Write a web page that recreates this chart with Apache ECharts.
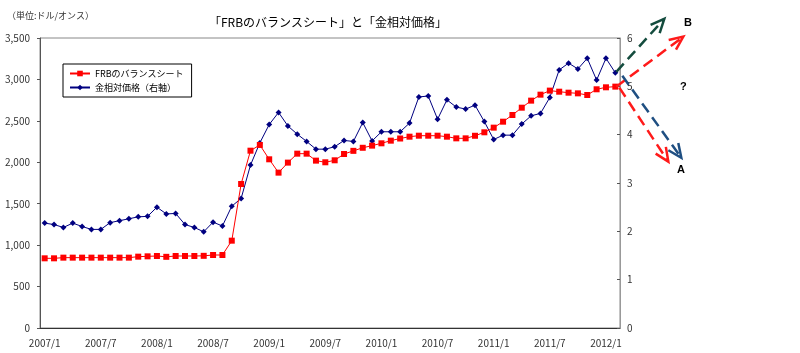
<!DOCTYPE html>
<html>
<head>
<meta charset="utf-8">
<title>FRBのバランスシートと金相対価格</title>
<script src="https://cdn.jsdelivr.net/npm/echarts@6/dist/echarts.min.js"></script>
<style>
  html, body { margin: 0; padding: 0; background: #fff; }
  #chart { width: 800px; height: 353px; }
</style>
</head>
<body>
<div id="chart"></div>
<script>
// 月次カテゴリ 2007/1 〜 2012/2
const months = [
  '2007/1', '2007/2', '2007/3', '2007/4', '2007/5', '2007/6', '2007/7', '2007/8', '2007/9', '2007/10', '2007/11', '2007/12',
  '2008/1', '2008/2', '2008/3', '2008/4', '2008/5', '2008/6', '2008/7', '2008/8', '2008/9', '2008/10', '2008/11', '2008/12',
  '2009/1', '2009/2', '2009/3', '2009/4', '2009/5', '2009/6', '2009/7', '2009/8', '2009/9', '2009/10', '2009/11', '2009/12',
  '2010/1', '2010/2', '2010/3', '2010/4', '2010/5', '2010/6', '2010/7', '2010/8', '2010/9', '2010/10', '2010/11', '2010/12',
  '2011/1', '2011/2', '2011/3', '2011/4', '2011/5', '2011/6', '2011/7', '2011/8', '2011/9', '2011/10', '2011/11', '2011/12',
  '2012/1', '2012/2'
];

// FRBのバランスシート（左軸）
const frbBalance = [
  841, 841, 849, 849, 849, 849, 849, 849, 849, 849, 861, 865,
  869, 859, 869, 869, 869, 871, 881, 881, 1054, 1738, 2140, 2209,
  2036, 1875, 1996, 2104, 2104, 2020, 2000, 2024, 2100, 2138, 2175, 2201,
  2229, 2261, 2287, 2309, 2321, 2321, 2321, 2309, 2289, 2289, 2320, 2362,
  2418, 2490, 2571, 2659, 2744, 2816, 2865, 2852, 2840, 2832, 2812, 2881,
  2905, 2913
];

// 金相対価格（右軸）
const goldRelative = [
  2.17, 2.14, 2.08, 2.17, 2.10, 2.04, 2.04, 2.18, 2.22, 2.26, 2.30, 2.31,
  2.50, 2.36, 2.37, 2.14, 2.08, 1.99, 2.19, 2.11, 2.52, 2.68, 3.37, 3.83,
  4.21, 4.46, 4.18, 4.01, 3.86, 3.70, 3.70, 3.75, 3.88, 3.86, 4.25, 3.87,
  4.06, 4.06, 4.06, 4.24, 4.78, 4.80, 4.32, 4.72, 4.57, 4.53, 4.61, 4.27,
  3.90, 3.99, 3.99, 4.22, 4.39, 4.44, 4.77, 5.34, 5.48, 5.36, 5.58, 5.13,
  5.58, 5.28
];

const jpFont = '"Noto Sans CJK JP", "Noto Sans", sans-serif';

const chart = echarts.init(document.getElementById('chart'));

const option = {
  animation: false,
  backgroundColor: '#fff',
  title: {
    text: '「FRBのバランスシート」と「金相対価格」',
    left: 323,
    top: 11,
    textAlign: 'center',
    textStyle: { fontFamily: jpFont, fontSize: 12, fontWeight: 'normal', color: '#000' }
  },
  legend: {
    orient: 'vertical',
    left: 63,
    top: 64,
    padding: [5, 8, 5, 6],
    itemGap: 5,
    itemWidth: 20,
    itemHeight: 7,
    borderColor: '#000',
    borderWidth: 1,
    textStyle: { fontFamily: jpFont, fontSize: 9, color: '#000' },
    data: ['FRBのバランスシート', '金相対価格（右軸）']
  },
  graphic: [
    {
      type: 'text',
      left: 7,
      top: 11,
      style: { text: '（単位:ドル/オンス）', fontFamily: jpFont, fontSize: 9, fill: '#333' }
    }
  ],
  grid: {
    left: 40,
    right: 180,
    top: 38,
    bottom: 25,
    show: true,
    borderColor: '#888',
    borderWidth: 1
  },
  xAxis: {
    type: 'category',
    data: months,
    boundaryGap: true,
    axisLine: { lineStyle: { color: '#333', width: 1 } },
    axisTick: { interval: 0, inside: true, length: 3, lineStyle: { color: '#333' } },
    axisLabel: {
      interval: 5,
      margin: 10,
      fontFamily: jpFont,
      fontSize: 10,
      color: '#333'
    },
    splitLine: { show: false }
  },
  yAxis: [
    {
      type: 'value',
      min: 0,
      max: 3500,
      interval: 500,
      axisLine: { show: true, lineStyle: { color: '#555' } },
      axisTick: { show: true, length: 3, lineStyle: { color: '#555' } },
      axisLabel: {
        margin: 10,
        fontFamily: jpFont,
        fontSize: 10,
        color: '#333',
        formatter: (v) => v.toLocaleString('en-US')
      },
      splitLine: { show: false }
    },
    {
      type: 'value',
      min: 0,
      max: 6,
      interval: 1,
      position: 'right',
      axisLine: { show: true, lineStyle: { color: '#999' } },
      axisTick: { show: true, inside: true, length: 3, lineStyle: { color: '#555' } },
      axisLabel: { margin: 7, fontFamily: jpFont, fontSize: 10, color: '#333' },
      splitLine: { show: false }
    }
  ],
  series: [
    {
      name: 'FRBのバランスシート',
      type: 'line',
      yAxisIndex: 0,
      data: frbBalance,
      symbol: 'rect',
      symbolSize: 6,
      lineStyle: { color: '#ff0000', width: 1 },
      itemStyle: { color: '#ff0000' },
      z: 3
    },
    {
      name: '金相対価格（右軸）',
      type: 'line',
      yAxisIndex: 1,
      data: goldRelative,
      symbol: 'diamond',
      symbolSize: 6,
      lineStyle: { color: '#000080', width: 1 },
      itemStyle: { color: '#000080' },
      z: 2
    }
  ]
};

chart.setOption(option);

// 矢印（シナリオA/B）: 最後のデータ点から伸ばす
const last = months.length - 1;
const redEnd = chart.convertToPixel({ seriesIndex: 0 }, [last, frbBalance[last]]);
const blueEnd = chart.convertToPixel({ seriesIndex: 1 }, [last, goldRelative[last]]);

function arrow(from, dx, dy, color) {
  const tip = [from[0] + dx, from[1] + dy];
  const ang = Math.atan2(-dy, -dx);
  const len = 15, spread = 0.42;
  const a1 = [tip[0] + len * Math.cos(ang + spread), tip[1] + len * Math.sin(ang + spread)];
  const a2 = [tip[0] + len * Math.cos(ang - spread), tip[1] + len * Math.sin(ang - spread)];
  return [
    {
      type: 'polyline',
      shape: { points: [from, tip] },
      style: { stroke: color, lineWidth: 2.5, lineDash: [11, 6], fill: null },
      z: 10
    },
    {
      type: 'polyline',
      shape: { points: [a1, tip, a2] },
      style: { stroke: color, lineWidth: 2.5, fill: null },
      z: 10
    }
  ];
}

const labelStyle = { fontFamily: '"Liberation Sans", sans-serif', fontSize: 11, fontWeight: 'bold', fill: '#000' };

chart.setOption({
  graphic: [
    option.graphic[0],
    ...arrow([blueEnd[0] + 1, blueEnd[1] - 1], 48, -53, '#144c3e'),
    ...arrow([redEnd[0] + 1, redEnd[1]], 67, -50, '#ff1a1a'),
    ...arrow([blueEnd[0] + 7, blueEnd[1] + 3], 59, 82, '#1f4f82'),
    ...arrow([redEnd[0] + 4, redEnd[1] + 1], 49, 74, '#ff1a1a'),
    { type: 'text', left: 684, top: 17, style: Object.assign({ text: 'B' }, labelStyle) },
    { type: 'text', left: 680, top: 81, style: Object.assign({ text: '?' }, labelStyle) },
    { type: 'text', left: 677, top: 164, style: Object.assign({ text: 'A' }, labelStyle) }
  ]
});
</script>
</body>
</html>
